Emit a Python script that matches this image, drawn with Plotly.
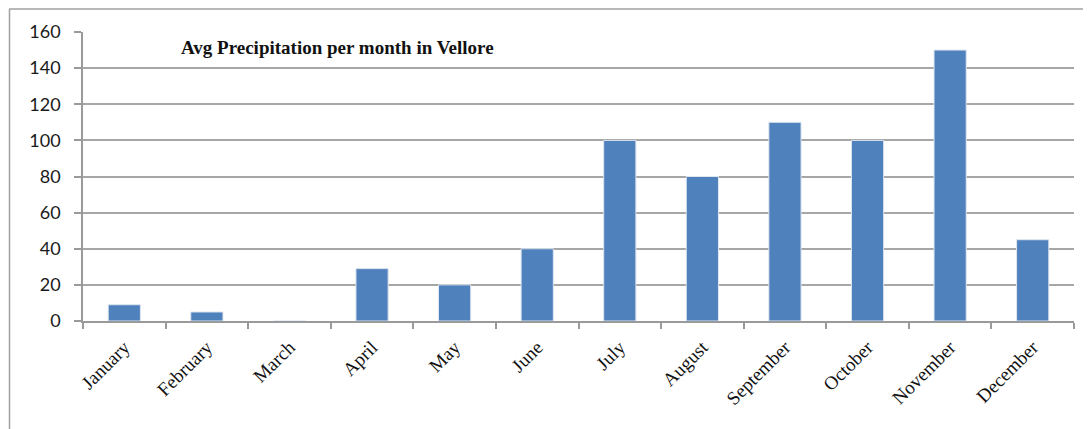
import plotly.graph_objects as go

months = ["January", "February", "March", "April", "May", "June", "July",
          "August", "September", "October", "November", "December"]
precip = [9, 5, 0, 29, 20, 40, 100, 80, 110, 100, 150, 45]
y_ticks = [0, 20, 40, 60, 80, 100, 120, 140, 160]
title_text = "Avg Precipitation per month in Vellore"

# page has an 8px body margin; figure coordinates are page - 8
OFF = 8
W, H = 1091 - OFF, 429 - OFF
L, T = 83 - OFF, 32 - OFF
R = W - (1074 - OFF)
B = H - (321 - OFF)
pw, ph = W - L - R, H - T - B

fig = go.Figure(go.Bar(
    x=months, y=precip,
    marker=dict(color="#4f81bd", line=dict(color="#dfe6f0", width=1)),
    width=0.39,
))

def px2paperx(px):
    return (px - OFF - L) / pw

def py2papery(py):
    return (H - B - (py - OFF)) / ph

fig.update_layout(
    width=W, height=H,
    margin=dict(l=L, r=R, t=T, b=B, autoexpand=False),
    paper_bgcolor="white", plot_bgcolor="white",
    showlegend=False,
    xaxis=dict(
        tickangle=-45,
        tickfont=dict(family="Liberation Serif", size=19, color="#111111"),
        ticklabelstandoff=6,
        showline=True, linecolor="#9a9a9a", linewidth=1.5,
        ticks="outside", ticklen=6, tickcolor="#9a9a9a", tickwidth=1.5,
        tickson="boundaries",
        showgrid=False,
        range=[-0.5, 11.5],
    ),
    yaxis=dict(
        range=[0, 160], tickvals=y_ticks,
        tickfont=dict(family="Lato", size=18, color="#1a1a1a"),
        ticklabelstandoff=10,
        showline=True, linecolor="#9a9a9a", linewidth=1.5,
        ticks="outside", ticklen=7, tickcolor="#9a9a9a", tickwidth=1.5,
        showgrid=True, gridcolor="#a6a6a6", gridwidth=1.5,
        zeroline=False,
    ),
    annotations=[dict(
        text="<b>" + title_text + "</b>",
        xref="paper", yref="paper",
        x=px2paperx(179), y=py2papery(47),
        xanchor="left", yanchor="middle", showarrow=False,
        font=dict(family="Liberation Serif", size=19, color="#111111"),
    )],
    shapes=[
        dict(type="line", xref="paper", yref="paper",
             x0=px2paperx(9.5), x1=px2paperx(9.5), y0=py2papery(9), y1=py2papery(440),
             line=dict(color="#a0a0a0", width=1.5)),
        dict(type="line", xref="paper", yref="paper",
             x0=px2paperx(9), x1=px2paperx(1100), y0=py2papery(9), y1=py2papery(9),
             line=dict(color="#a0a0a0", width=1.5)),
    ],
)

fig.write_html("out.html")
